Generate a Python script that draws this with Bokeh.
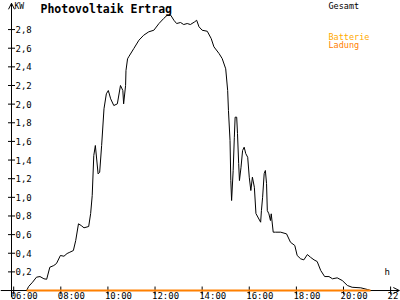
from bokeh.plotting import figure
from bokeh.models import Range1d, Label, Arrow, OpenHead
from bokeh.embed import file_html
from bokeh.resources import INLINE
from bokeh.core.properties import value

# ---- data ----
TIMES = ["06:33", "06:38", "06:48", "06:58", "07:07", "07:17", "07:24", "07:32", "07:42", "07:49",
         "07:59", "08:08", "08:16", "08:23", "08:32", "08:38", "08:45", "08:52", "08:59", "09:11",
         "09:16", "09:20", "09:24", "09:28", "09:35", "09:39", "09:44", "09:50", "09:56", "10:01",
         "10:07", "10:15", "10:24", "10:32", "10:38", "10:40", "10:45", "10:46", "10:50", "10:53",
         "11:06", "11:19", "11:31", "11:44", "11:57", "12:10", "12:22", "12:31", "12:40", "12:48",
         "12:55", "13:05", "13:13", "13:22", "13:30", "13:41", "13:46", "13:52", "14:00", "14:13",
         "14:23", "14:30", "14:43", "14:51", "15:00", "15:05", "15:07", "15:11", "15:13", "15:15",
         "15:19", "15:22", "15:24", "15:28", "15:30", "15:33", "15:35", "15:39", "15:43", "15:47",
         "15:51", "15:56", "16:00", "16:04", "16:08", "16:13", "16:17", "16:29", "16:31", "16:34",
         "16:38", "16:41", "16:44", "16:46", "16:50", "16:54", "16:56", "17:01", "17:07", "17:20",
         "17:35", "17:45", "17:56", "18:02", "18:11", "18:19", "18:28", "18:36", "18:45", "18:53",
         "19:02", "19:12", "19:23", "19:32", "19:44", "19:57", "20:10", "20:22", "20:44", "21:01",
         "21:09"]
GESAMT = [0.000, 0.043, 0.089, 0.143, 0.150, 0.126, 0.121, 0.250, 0.268, 0.290,
          0.376, 0.368, 0.397, 0.411, 0.429, 0.537, 0.716, 0.697, 0.673, 0.687,
          0.826, 1.019, 1.449, 1.556, 1.252, 1.269, 1.556, 1.950, 2.111, 2.146,
          2.057, 1.985, 2.003, 2.200, 2.146, 2.003, 2.200, 2.361, 2.486, 2.508,
          2.597, 2.686, 2.739, 2.776, 2.793, 2.865, 2.919, 2.954, 2.954, 2.900,
          2.865, 2.876, 2.854, 2.865, 2.854, 2.883, 2.900, 2.830, 2.793, 2.782,
          2.704, 2.615, 2.543, 2.489, 2.379, 2.146, 1.931, 1.610, 1.180, 0.966,
          1.288, 1.645, 1.860, 1.860, 1.685, 1.363, 1.180, 1.323, 1.502, 1.538,
          1.470, 1.430, 1.216, 1.073, 1.216, 1.108, 0.826, 0.733, 0.858, 1.001,
          1.255, 1.288, 1.148, 0.858, 0.823, 0.751, 0.823, 0.626, 0.626, 0.626,
          0.608, 0.518, 0.483, 0.376, 0.340, 0.329, 0.386, 0.357, 0.329, 0.311,
          0.215, 0.150, 0.150, 0.126, 0.136, 0.107, 0.054, 0.035, 0.029, 0.011,
          0.000]
LADUNG_TIMES = ["06:33", "21:09"]
LADUNG = [0.0, 0.0]

X_TICKS = ["06:00", "08:00", "10:00", "12:00", "14:00", "16:00", "18:00", "20:00", "22:00"]
Y_TICKS = [0.2, 0.4, 0.6, 0.8, 1.0, 1.2, 1.4, 1.6, 1.8, 2.0, 2.2, 2.4, 2.6, 2.8]
Y_TICK_LABELS = ["0,2", "0,4", "0,6", "0,8", "1,0", "1,2", "1,4", "1,6", "1,8",
                 "2,0", "2,2", "2,4", "2,6", "2,8"]

TITLE = "Photovoltaik Ertrag"
Y_UNIT = "KW"
X_UNIT = "h"
LEGEND = [("Gesamt", "#000000"), ("Batterie", "#FFAA00"), ("Ladung", "#FF8000")]


def hours(t):
    hh, mm = t.split(":")
    return int(hh) + int(mm) / 60.0


x_g = [hours(t) for t in TIMES]
x_l = [hours(t) for t in LADUNG_TIMES]
x_t = [hours(t) for t in X_TICKS]

X0, X1 = 5.44, 22.42
Y0, Y1 = -0.107, 3.112
AXIS_X = 5.907
FONT = value("DejaVu Sans Mono")

p = figure(width=400, height=300, x_range=Range1d(X0, X1), y_range=Range1d(Y0, Y1),
           x_axis_type=None, y_axis_type=None, title=None,
           output_backend="svg", toolbar_location=None, min_border=0)
p.outline_line_color = None
p.background_fill_color = "white"
p.border_fill_color = "white"

# axes
p.line([X0, X1 - 0.05], [0, 0], line_color="black", line_width=1)
p.line([AXIS_X, AXIS_X], [-0.07, Y1 - 0.03], line_color="black", line_width=1)
p.add_layout(Arrow(end=OpenHead(size=6, line_width=1, line_color="black"),
                   x_start=X1 - 0.4, y_start=0, x_end=X1 - 0.05, y_end=0,
                   line_color="black", line_width=1))
p.add_layout(Arrow(end=OpenHead(size=6, line_width=1, line_color="black"),
                   x_start=AXIS_X, y_start=Y1 - 0.2, x_end=AXIS_X, y_end=Y1 - 0.03,
                   line_color="black", line_width=1))

# ticks
p.dash(x=[AXIS_X] * len(Y_TICKS), y=Y_TICKS, size=7, line_color="black", line_width=1)
p.dash(x=x_t, y=[0] * len(x_t), size=8, angle=1.5708, line_color="black", line_width=1)

# tick labels
p.text(x=[AXIS_X] * len(Y_TICKS), y=Y_TICKS, text=Y_TICK_LABELS, x_offset=4,
       text_baseline="middle", text_align="left", text_font=FONT,
       text_font_size="9px", text_color="black")
p.text(x=x_t, y=[0] * len(x_t), text=X_TICKS, x_offset=-3, y_offset=0,
       text_baseline="top", text_align="left", text_font=FONT,
       text_font_size="9px", text_color="black")

# data
p.line(x_g, GESAMT, line_color="black", line_width=1)
p.line(x_l, LADUNG, line_color=LEGEND[2][1], line_width=2)

# texts
p.add_layout(Label(x=40, y=299, x_units="screen", y_units="screen", text=TITLE,
                   text_font="DejaVu Sans Mono", text_font_style="bold",
                   text_font_size="11.5px", text_baseline="top", text_color="black"))
p.add_layout(Label(x=14, y=299, x_units="screen", y_units="screen", text=Y_UNIT,
                   text_font="DejaVu Sans Mono", text_font_size="8px",
                   text_baseline="top", text_color="black"))
p.add_layout(Label(x=384, y=24, x_units="screen", y_units="screen", text=X_UNIT,
                   text_font="DejaVu Sans Mono", text_font_size="9px",
                   text_baseline="bottom", text_color="black"))
for (name, col), ytop in zip(LEGEND, [300, 269, 261]):
    p.add_layout(Label(x=328, y=ytop, x_units="screen", y_units="screen", text=name,
                       text_font="DejaVu Sans Mono", text_font_size="8.5px",
                       text_baseline="top", text_color=col))

open("out.html", "w").write(file_html(p, INLINE))
